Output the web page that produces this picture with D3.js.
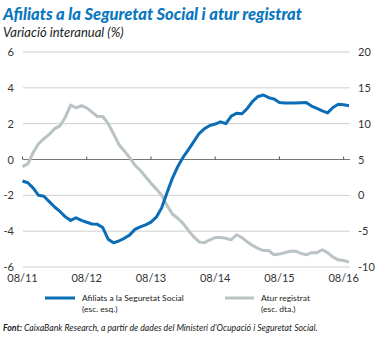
<!DOCTYPE html>
<html>
<head>
<meta charset="utf-8">
<script src="https://cdn.jsdelivr.net/npm/d3@7"></script>
<style>
  html, body { margin: 0; padding: 0; background: #fff; }
  svg { display: block; }
  text { font-family: Lato, "Open Sans", sans-serif; }
</style>
</head>
<body>
<svg id="chart" width="375" height="338"></svg>
<script>
// Monthly year-on-year change, August 2011 onwards

// Social Security affiliates, % (left scale)
const afiliats = [
  -1.2, -1.3, -1.6, -2.0, -2.05, -2.35, -2.65, -2.9, -3.2, -3.4,
  -3.25, -3.4, -3.5, -3.6, -3.62, -3.8, -4.45, -4.65, -4.55, -4.4,
  -4.22, -3.9, -3.76, -3.65, -3.5, -3.22, -2.7, -1.85, -1.05, -0.4,
  0.12, 0.55, 1.0, 1.45, 1.72, 1.9, 1.98, 2.1, 2.0, 2.42,
  2.58, 2.55, 2.85, 3.25, 3.52, 3.6, 3.45, 3.38, 3.18, 3.16,
  3.15, 3.16, 3.17, 3.18, 2.98, 2.85, 2.72, 2.6, 2.9, 3.08,
  3.05, 3.0
];

// Registered unemployment, % (right scale)
const atur = [
  4.0, 4.4, 6.0, 7.2, 7.9, 8.5, 9.3, 9.7, 10.9, 12.6,
  12.2, 12.5, 12.2, 11.6, 11.0, 11.0, 10.0, 8.6, 7.1, 6.2,
  5.3, 4.2, 3.5, 2.6, 1.7, 0.9, 0.0, -1.4, -2.6, -3.2,
  -3.9, -4.9, -5.8, -6.5, -6.6, -6.2, -5.9, -5.9, -6.0, -6.2,
  -5.5, -5.9, -6.5, -7.0, -7.4, -7.7, -7.7, -8.3, -8.2, -8.0,
  -7.8, -7.8, -8.1, -8.3, -8.0, -8.0, -7.6, -8.0, -8.6, -9.0,
  -9.1, -9.3
];

const xTickMonths = [0, 12, 24, 36, 48, 60];
const xTickLabels = ["08/11", "08/12", "08/13", "08/14", "08/15", "08/16"];
const leftTicks = [6, 4, 2, 0, -2, -4, -6];
const rightTicks = [20, 15, 10, 5, 0, -5, -10];

const title = "Afiliats a la Seguretat Social i atur registrat";
const subtitle = "Variació interanual (%)";
const legendLabels = [["Afiliats a la Seguretat Social", "(esc. esq.)"], ["Atur registrat", "(esc. dta.)"]];
const sourceLabel = "Font:";
const sourceText = " CaixaBank Research, a partir de dades del Ministeri d’Ocupació i Seguretat Social.";

const blue = "#0a6db5";
const grey = "#b9c2c5";

const svg = d3.select("#chart");

const plot = { left: 23, right: 350, top: 52, bottom: 267 };

const x = d3.scaleLinear().domain([0, 61]).range([22.5, 349]);
const yL = d3.scaleLinear().domain([-6, 6]).range([plot.bottom, plot.top]);
const yR = d3.scaleLinear().domain([-10, 20]).range([plot.bottom, plot.top]);

// Scale a text element's font size so it spans the given width
function fitWidth(sel, base, width) {
  const w = sel.node().getComputedTextLength();
  sel.attr("font-size", base * width / w);
}

// Title and subtitle
const t = svg.append("text").attr("x", 3).attr("y", 20)
  .attr("fill", "#0a77c0").attr("font-weight", 900).attr("font-style", "italic")
  .attr("font-size", 17).text(title);
fitWidth(t, 17, 299);

svg.append("text").attr("x", 3).attr("y", 37)
  .attr("fill", "#222").attr("font-style", "italic").attr("font-size", 13)
  .text(subtitle);

// Grid lines (left scale)
svg.append("g").selectAll("line")
  .data(leftTicks.filter(d => d !== 0))
  .join("line")
  .attr("x1", plot.left).attr("x2", plot.right)
  .attr("y1", d => yL(d)).attr("y2", d => yL(d))
  .attr("stroke", "#cfcfcf").attr("stroke-width", 1);

// Left axis labels
svg.append("g").selectAll("text")
  .data(leftTicks).join("text")
  .attr("x", 14).attr("y", d => yL(d) + 4)
  .attr("text-anchor", "end").attr("font-size", 11).attr("fill", "#333")
  .text(d => d);

// Right axis labels
svg.append("g").selectAll("text")
  .data(rightTicks).join("text")
  .attr("x", 358).attr("y", d => yR(d) + 4)
  .attr("text-anchor", "start").attr("font-size", 11).attr("fill", "#333")
  .text(d => d);

// Zero line with yearly ticks
svg.append("line")
  .attr("x1", plot.left).attr("x2", plot.right)
  .attr("y1", yL(0)).attr("y2", yL(0))
  .attr("stroke", "#777").attr("stroke-width", 1);
svg.append("g").selectAll("line")
  .data(xTickMonths).join("line")
  .attr("x1", d => x(d)).attr("x2", d => x(d))
  .attr("y1", yL(0) - 3).attr("y2", yL(0))
  .attr("stroke", "#555").attr("stroke-width", 1);

// X labels
svg.append("g").selectAll("text")
  .data(xTickMonths).join("text")
  .attr("x", d => x(d)).attr("y", 282)
  .attr("text-anchor", "middle").attr("font-size", 11).attr("fill", "#333")
  .text((d, i) => xTickLabels[i]);

// Series lines
const lineL = d3.line().x((d, i) => x(i)).y(d => yL(d));
const lineR = d3.line().x((d, i) => x(i)).y(d => yR(d));

svg.append("path").datum(atur).attr("d", lineR)
  .attr("fill", "none").attr("stroke", grey).attr("stroke-width", 3)
  .attr("stroke-linejoin", "round");
svg.append("path").datum(afiliats).attr("d", lineL)
  .attr("fill", "none").attr("stroke", blue).attr("stroke-width", 3)
  .attr("stroke-linejoin", "round");

// Legend
const legendItems = [
  { color: blue, x1: 45, x2: 75, tx: 82, w: 102 },
  { color: grey, x1: 225, x2: 254, tx: 261, w: 49 }
];
legendItems.forEach((it, i) => {
  const g = svg.append("g");
  g.append("line").attr("x1", it.x1).attr("x2", it.x2)
    .attr("y1", 298).attr("y2", 298)
    .attr("stroke", it.color).attr("stroke-width", 3);
  const l1 = g.append("text").attr("x", it.tx).attr("y", 301)
    .attr("font-size", 9.5).attr("fill", "#222").text(legendLabels[i][0]);
  fitWidth(l1, 9.5, it.w);
  g.append("text").attr("x", it.tx).attr("y", 312)
    .attr("font-size", l1.attr("font-size")).attr("fill", "#222").text(legendLabels[i][1]);
});

// Source
const src = svg.append("text").attr("x", 3).attr("y", 331)
  .attr("font-size", 9).attr("fill", "#222").attr("font-style", "italic");
src.append("tspan").attr("font-weight", 700).text(sourceLabel);
src.append("tspan").text(sourceText);
fitWidth(src, 9, 315);
</script>
</body>
</html>
